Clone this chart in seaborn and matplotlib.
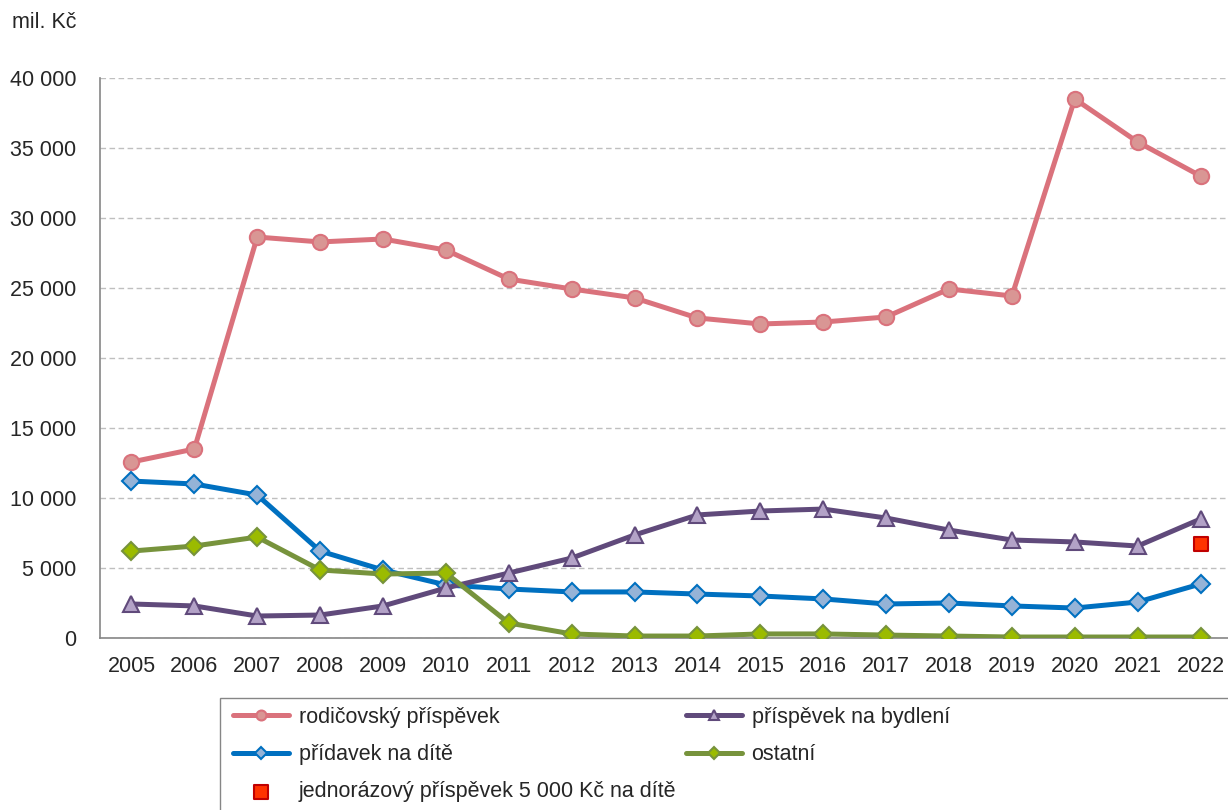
import pandas as pd
import seaborn as sns
import matplotlib.pyplot as plt
from matplotlib.patches import Rectangle
from matplotlib.ticker import FuncFormatter, FixedLocator

roky = list(range(2005, 2023))
rodicovsky = [12570, 13500, 28640, 28290, 28500, 27710, 25640, 24930, 24290,
              22860, 22430, 22570, 22930, 24930, 24430, 38500, 35430, 33000]
bydleni = [2430, 2290, 1570, 1640, 2290, 3570, 4640, 5710, 7360,
           8790, 9070, 9210, 8570, 7710, 7000, 6860, 6570, 8500]
pridavek = [11210, 11000, 10210, 6210, 4860, 3790, 3500, 3290, 3290,
            3140, 3000, 2790, 2430, 2500, 2290, 2140, 2570, 3860]
ostatni = [6210, 6570, 7210, 4860, 4570, 4640, 1070, 290, 140,
           140, 290, 290, 210, 140, 70, 70, 70, 70]
jednorazovy_rok = [2022]
jednorazovy = [6710]

sns.set_style('white')
plt.rcParams['font.family'] = ['Liberation Sans', 'DejaVu Sans']
FS = 15.5

fig = plt.figure(figsize=(12.28, 8.10), dpi=100)
ax = fig.add_axes([100 / 1228, 172 / 810, 1132 / 1228, 560 / 810])

# (popisek, data, barva cary, vypln znacky, znacka, velikost)
serie = [
    ('rodičovský příspěvek', rodicovsky, '#DA727C', '#D99694', 'o', 11),
    ('přídavek na dítě', pridavek, '#0070C0', '#95B3D7', 'D', 9),
    ('příspěvek na bydlení', bydleni, '#604A7B', '#B3A2C7', '^', 11),
    ('ostatní', ostatni, '#77933C', '#9BBB00', 'D', 9),
]
for label, hodnoty, barva, vypln, zn, ms in serie:
    df = pd.DataFrame({'rok': roky, 'hodnota': hodnoty})
    sns.lineplot(data=df, x='rok', y='hodnota', ax=ax, color=barva, linewidth=3.6,
                 marker=zn, markersize=ms, markerfacecolor=vypln,
                 markeredgecolor=barva, markeredgewidth=1.5, label=label, zorder=3)

sns.scatterplot(x=jednorazovy_rok, y=jednorazovy, ax=ax, marker='s', s=110,
                color='#FF3300', edgecolor='#C00000', linewidth=1.5,
                label='jednorázový příspěvek 5 000 Kč na dítě', zorder=4)

ax.set_xlim(2004.5, 2022.5)
ax.set_ylim(0, 40000)
ax.set_yticks(range(0, 40001, 5000))
ax.yaxis.set_major_formatter(FuncFormatter(lambda v, p: f'{int(v):,}'.replace(',', ' ')))
ax.grid(axis='y', color='#BFBFBF', linestyle=(0, (4, 2.5)), linewidth=1.0)
ax.set_axisbelow(True)

# ticky mezi roky, popisky uprostred
ax.xaxis.set_major_locator(FixedLocator([r - 0.5 for r in roky] + [2022.5]))
ax.xaxis.set_major_formatter(FuncFormatter(lambda v, p: ''))
ax.xaxis.set_minor_locator(FixedLocator(roky))
ax.set_xticklabels([str(r) for r in roky], minor=True)
ax.tick_params(axis='x', which='major', length=4, width=1, color='#868686', direction='out')
ax.tick_params(axis='x', which='minor', length=0, labelsize=FS, pad=13)
ax.tick_params(axis='y', length=4, width=1, color='#868686', direction='out', labelsize=FS, pad=13)

for s in ['top', 'right']:
    ax.spines[s].set_visible(False)
for s in ['left', 'bottom']:
    ax.spines[s].set_color('#868686')
    ax.spines[s].set_linewidth(1.2)

ax.set_xlabel('')
ax.set_ylabel('')
fig.text(12 / 1228, 1 - 22 / 810, 'mil. Kč', fontsize=FS, va='center', ha='left')

ax.get_legend().remove()
handles, labels = ax.get_legend_handles_labels()
order = [0, 1, 4, 2, 3]
leg = fig.legend([handles[i] for i in order], [labels[i] for i in order],
                 loc='upper left', bbox_to_anchor=(233 / 1228, 1 - 707 / 810),
                 ncol=2, fontsize=FS, frameon=False, handlelength=2.6,
                 handletextpad=0.45, labelspacing=0.75, borderpad=0, borderaxespad=0,
                 columnspacing=0.45, markerscale=0.65)
leg.legend_handles[2].set_sizes([110])

# ramecek legendy presahuje pravy a dolni okraj
fig.add_artist(Rectangle((220 / 1228, -0.02), 1.0, (810 - 698) / 810 + 0.02,
                         transform=fig.transFigure, fill=False,
                         edgecolor='#868686', linewidth=1.0))

plt.savefig('out.png', dpi=100)
